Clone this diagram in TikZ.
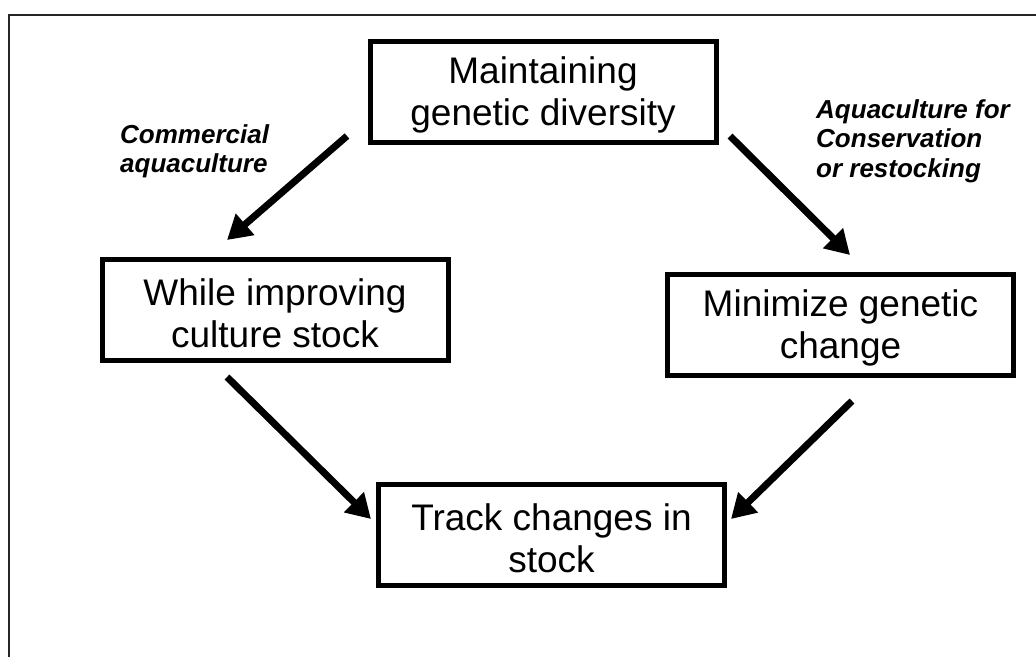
\documentclass[tikz,border=0pt]{standalone}
\usepackage{fontspec}
\setmainfont{Liberation Sans}
\usetikzlibrary{arrows.meta}
\newcommand{\boxstrut}{\rule{0pt}{33pt}}
\begin{document}
\begin{tikzpicture}[x=1pt,y=-1pt,
  box/.style={draw=black,line width=5pt,minimum width=346pt,minimum height=101pt,
    inner sep=0pt,align=center,font=\fontsize{37}{42}\selectfont},
  lbl/.style={inner sep=0pt,align=left,anchor=north west,
    font=\fontsize{26}{29.5}\selectfont\bfseries\itshape},
  flow/.style={line width=7pt,-{Triangle[length=24pt,width=27pt]}},
  frame/.style={line width=2pt,draw=black!85}]
\useasboundingbox (0,0) rectangle (1036,657);
% frame
\coordinate (fb) at (9,657);
\coordinate (fc) at (9,15);
\coordinate (fr) at (1036,15);
\draw[frame] (fb) -- (fc) -- (fr);
% boxes
\node[box] (top) at (543,91.5) {\boxstrut Maintaining\\genetic diversity};
\node[box] (left) at (275,310) {\boxstrut While improving\\culture stock};
\node[box] (right) at (840.5,324.5) {\boxstrut Minimize genetic\\change};
\node[box] (bottom) at (551.5,535) {\boxstrut Track changes in\\stock};
% labels
\node[lbl] (lc) at (120,124) {Commercial\\aquaculture};
\node[lbl] (lr) at (816,99) {Aquaculture for\\Conservation\\or restocking};
% arrow end points
\coordinate (a1s) at (347,136);
\coordinate (a1e) at (227,240);
\coordinate (a2s) at (730,136);
\coordinate (a2e) at (850,255);
\coordinate (a3s) at (227,377);
\coordinate (a3e) at (371,519);
\coordinate (a4s) at (852,401);
\coordinate (a4e) at (731,519);
\draw[flow] (a1s) -- (a1e);
\draw[flow] (a2s) -- (a2e);
\draw[flow] (a3s) -- (a3e);
\draw[flow] (a4s) -- (a4e);
\end{tikzpicture}
\end{document}
